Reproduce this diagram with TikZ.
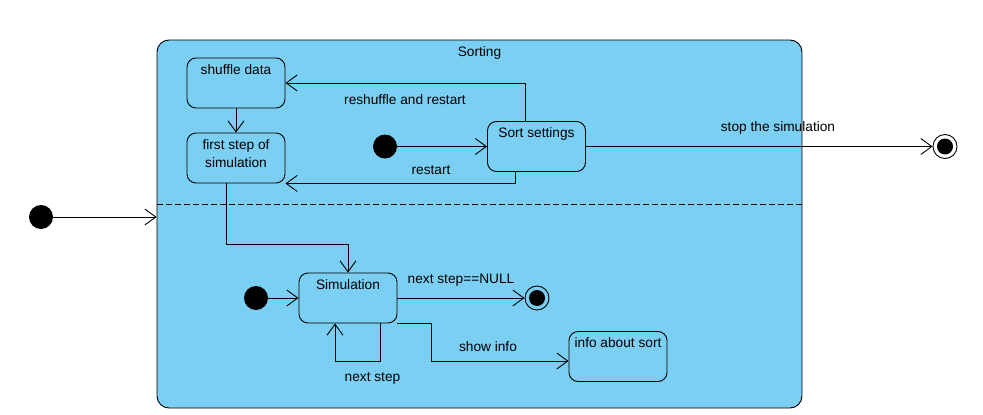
\documentclass[tikz,border=0pt]{standalone}
\usepackage{fontspec}
\setmainfont{Liberation Sans}
\usetikzlibrary{arrows.meta}
\definecolor{sortblue}{RGB}{122,207,243}
\begin{document}
\begin{tikzpicture}[x=1pt, y=-1pt, >={Straight Barb[length=11pt,width=16pt]}, line width=0.9pt,
  font=\fontsize{13.7}{16.5}\selectfont,
  statebox/.style={draw, rounded corners=9pt, minimum width=98pt, minimum height=50pt, inner sep=3pt, align=center},
  topstate/.style={statebox, text height=13pt, text depth=31pt},
  initdot/.style={circle, fill=black, minimum size=24pt, inner sep=0pt},
  finaldot/.style={circle, draw, minimum size=24pt, inner sep=0pt, path picture={\fill[black] (path picture bounding box.center) circle (8pt);}}]
\useasboundingbox (0,0) rectangle (983,415);
\node[draw, fill=sortblue, rounded corners=12pt, minimum width=645pt, minimum height=368pt, inner sep=3pt, text height=13pt, text depth=349pt] (sorting) at (479.5,224) {Sorting};
\draw[dashed, dash pattern=on 6pt off 3pt] (157,204) -- (802,204);
\node[topstate] (shuffle) at (236,83) {shuffle data};
\node[statebox, font=\fontsize{13.7}{18}\selectfont, text depth=9pt] (first) at (236,158) {first step of\\simulation};
\node[topstate] (settings) at (536.5,146.5) {Sort settings};
\node[topstate] (sim) at (348,298) {Simulation};
\node[topstate] (info) at (618,356.5) {info about sort};
\node[initdot] (start) at (41,217) {};
\node[initdot] (sortstart) at (385,146.5) {};
\node[initdot] (simstart) at (256,298) {};
\node[finaldot] (stop) at (945,146.5) {};
\node[finaldot] (simend) at (537,298) {};
\draw[->] (start) -- (start -| sorting.west);
\draw[->] (shuffle) -- (first);
\draw[->] (sortstart) -- (settings);
\draw[->] ([xshift=-11.5pt]settings.north) |- (shuffle);
\draw[->] ([xshift=-21.5pt]settings.south) |- (first.south east);
\draw[->] (settings) -- (stop);
\draw[->] ([xshift=-10pt]first.south) -- ++(0,61) -| (sim);
\draw[->] (simstart) -- (sim);
\draw[->] (sim) -- (simend);
\draw[->] (sim.south east) -- ++(34,0) |- ([yshift=-4.5pt]info.west);
\draw[->] ([xshift=32pt]sim.south) -- ++(0,38) -| ([xshift=-13pt]sim.south);
\node (reshufflelabel) at (405,100) {reshuffle and restart};
\node (restartlabel) at (431,170) {restart};
\node (stoplabel) at (778,128) {stop the simulation};
\node (nulllabel) at (461,280) {next step==NULL};
\node (infolabel) at (488,347) {show info};
\node (nextlabel) at (372.5,378) {next step};
\end{tikzpicture}
\end{document}
